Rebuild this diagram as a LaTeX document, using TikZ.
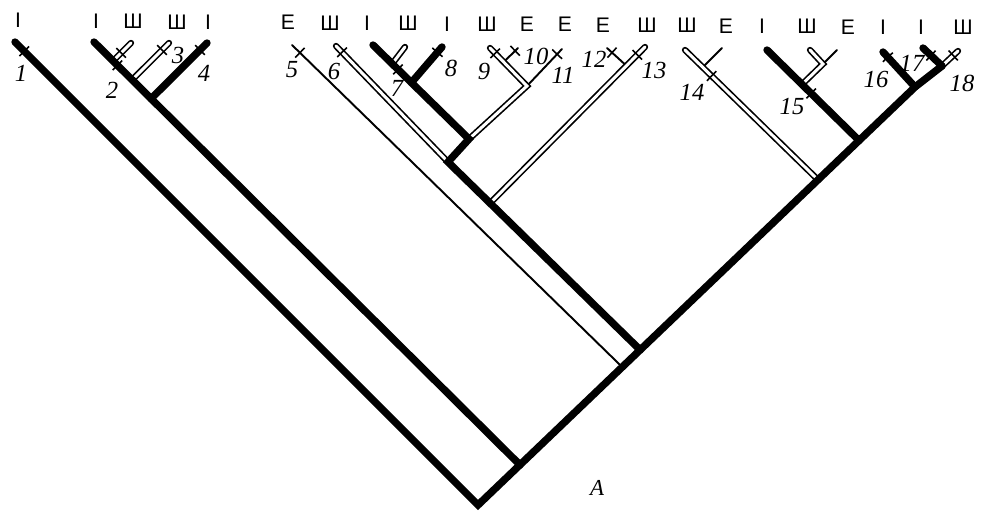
\documentclass[tikz,border=0pt]{standalone}
\usepackage{fontspec}
\setmainfont{Liberation Serif}
\setsansfont{Liberation Sans}
\usepackage{tikz}
\usetikzlibrary{calc}
\tikzstyle{thickbr} = [draw, line width=4.2pt, line cap=round, line join=miter]
\tikzstyle{dblbr} = [draw, double, line width=0.95pt, double distance=1.7pt, line cap=round]
\tikzstyle{thinbr} = [draw, line width=1.1pt, line cap=round]
\tikzstyle{tickmark} = [draw, rectangle, line width=0.9pt, inner sep=0pt, minimum width=0pt, minimum height=0.27cm, sloped]
\tikzstyle{taxon} = [font=\sffamily\fontsize{12}{14}\selectfont]
\tikzstyle{numlab} = [font=\itshape\fontsize{14}{16}\selectfont]

\begin{document}
\begin{tikzpicture}[x=0.02cm, y=-0.02cm]
        \useasboundingbox (0,0) rectangle (982,516);

        % Leaf tips
        \coordinate (leaf1) at (15,42);
        \coordinate (leaf2) at (94,42);
        \coordinate (leaf3) at (131,43);
        \coordinate (leaf4) at (169,43);
        \coordinate (leaf5) at (207,43);
        \coordinate (leaf6) at (292,45);
        \coordinate (leaf7) at (336,46);
        \coordinate (leaf8) at (373,45);
        \coordinate (leaf9) at (405,47);
        \coordinate (leaf10) at (442,47);
        \coordinate (leaf11) at (490,48);
        \coordinate (leaf12) at (518,48);
        \coordinate (leaf13) at (562,49);
        \coordinate (leaf14) at (607,48);
        \coordinate (leaf15) at (645,47);
        \coordinate (leaf16) at (685,50);
        \coordinate (leaf17) at (722,48);
        \coordinate (leaf18) at (767,50);
        \coordinate (leaf19) at (810,50);
        \coordinate (leaf20) at (837,50);
        \coordinate (leaf21) at (883,52);
        \coordinate (leaf22) at (923,48);
        \coordinate (leaf23) at (958,51);

        % Inner nodes
        \coordinate (root) at (478,505);
        \coordinate (n16) at (915,87);
        \coordinate (n17) at (942,66);
        \coordinate (nA) at ($(root)!0.096!(n16)$);
        \coordinate (n5) at ($(root)!0.33!(n16)$);
        \coordinate (nB) at ($(root)!0.371!(n16)$);
        \coordinate (n14) at ($(root)!0.778!(n16)$);
        \coordinate (n15) at ($(root)!0.872!(n16)$);
        \coordinate (s3) at ($(leaf2)!0.0448!(nA)$);
        \coordinate (s4) at ($(leaf2)!0.0895!(nA)$);
        \coordinate (s5) at ($(leaf2)!0.134!(nA)$);
        \coordinate (N6) at (448,162);
        \coordinate (N7) at (469,139);
        \coordinate (n8) at ($(leaf8)!0.4!(N7)$);
        \coordinate (s9) at ($(leaf8)!0.2!(N7)$);
        \coordinate (c11) at (527,86);
        \coordinate (j12) at ($(leaf11)!0.37!(c11)$);
        \coordinate (n13) at ($(N6)!0.219!(nB)$);
        \coordinate (j14) at ($(leaf15)!0.12!(n13)$);
        \coordinate (j17) at ($(leaf16)!0.133!(n14)$);
        \coordinate (c19) at (823,64);
        \coordinate (s19) at ($(leaf18)!0.38!(n15)$);

        % Thin branches
        \path [thinbr] (leaf6) -- (n5);
        \path [thinbr] (leaf12) -- (j12);
        \path [thinbr] (leaf13) -- (c11);
        \path [thinbr] (leaf14) -- (j14);
        \path [thinbr] (leaf17) -- (j17);
        \path [thinbr] (leaf20) -- (c19);

        % Double branches
        \path [dblbr] (leaf3) -- (s3);
        \path [dblbr] (leaf4) -- (s4);
        \path [dblbr] (leaf7) -- (N6);
        \path [dblbr] (leaf9) -- (s9);
        \path [dblbr] (leaf11) -- (c11) -- (N7);
        \path [dblbr] (leaf15) -- (n13);
        \path [dblbr] (leaf16) -- (n14);
        \path [dblbr] (leaf19) -- (c19) -- (s19);
        \path [dblbr] (n17) -- (leaf23);

        % Thick branches
        \path [thickbr] (leaf1) -- (root) -- (n16) -- (n17);
        \path [thickbr] (leaf2) -- (nA);
        \path [thickbr] (leaf5) -- (s5);
        \path [thickbr] (leaf8) -- (N7) -- (N6) -- (nB);
        \path [thickbr] (leaf10) -- (n8);
        \path [thickbr] (leaf18) -- (n15);
        \path [thickbr] (leaf21) -- (n16);
        \path [thickbr] (leaf22) -- (n17);

        % Ticks
        \path (leaf1) -- node[tickmark, pos=0.02] (tk1) {} (root);
        \path (leaf3) -- node[tickmark, pos=0.55] (tk2a) {} (s3);
        \path (leaf2) -- node[tickmark, pos=0.055] (tk2) {} (nA);
        \path (leaf4) -- node[tickmark, pos=0.19] (tk3) {} (s4);
        \path (leaf5) -- node[tickmark, pos=0.125] (tk4) {} (s5);
        \path (leaf6) -- node[tickmark, pos=0.024] (tk5) {} (n5);
        \path (leaf7) -- node[tickmark, pos=0.054] (tk6) {} (N6);
        \path (leaf8) -- node[tickmark, pos=0.26] (tk7) {} (N7);
        \path (leaf10) -- node[tickmark, pos=0.15] (tk8) {} (n8);
        \path (leaf11) -- node[tickmark, pos=0.14] (tk9) {} (c11);
        \path (leaf12) -- node[tickmark, pos=0.2] (tk10) {} (j12);
        \path (leaf13) -- node[tickmark, pos=0.14] (tk11) {} (c11);
        \path (leaf14) -- node[tickmark, pos=0.26] (tk12) {} (j14);
        \path (leaf15) -- node[tickmark, pos=0.05] (tk13) {} (n13);
        \path (leaf16) -- node[tickmark, pos=0.2] (tk14) {} (n14);
        \path (leaf18) -- node[tickmark, pos=0.48] (tk15) {} (n15);
        \path (leaf21) -- node[tickmark, pos=0.15] (tk16) {} (n16);
        \path (leaf22) -- node[tickmark, pos=0.42] (tk17) {} (n17);
        \path (n17) -- node[tickmark, pos=0.7] (tk18) {} (leaf23);

        % Taxon letters
        \node (tx1) [taxon] at (18,20.6) {I};
        \node (tx2) [taxon] at (96,21.2) {I};
        \node (tx3) [taxon] at (133,21.5) {Ш};
        \node (tx4) [taxon] at (177,21.8) {Ш};
        \node (tx5) [taxon] at (208,22.1) {I};
        \node (tx6) [taxon] at (288,22.7) {E};
        \node (tx7) [taxon] at (330,23) {Ш};
        \node (tx8) [taxon] at (367,23.3) {I};
        \node (tx9) [taxon] at (408,23.6) {Ш};
        \node (tx10) [taxon] at (447,23.9) {I};
        \node (tx11) [taxon] at (487,24.2) {Ш};
        \node (tx12) [taxon] at (527,24.5) {E};
        \node (tx13) [taxon] at (565,24.7) {E};
        \node (tx14) [taxon] at (603,25) {E};
        \node (tx15) [taxon] at (647,25.4) {Ш};
        \node (tx16) [taxon] at (687,25.7) {Ш};
        \node (tx17) [taxon] at (726,26) {E};
        \node (tx18) [taxon] at (762,26.2) {I};
        \node (tx19) [taxon] at (807,26.6) {Ш};
        \node (tx20) [taxon] at (848,26.9) {E};
        \node (tx21) [taxon] at (883,27.1) {I};
        \node (tx22) [taxon] at (921,27.4) {I};
        \node (tx23) [taxon] at (963,27.7) {Ш};

        % Tick numbers
        \node (num1) [numlab] at (21,73) {1};
        \node (num2) [numlab] at (112,90) {2};
        \node (num3) [numlab] at (178,55) {3};
        \node (num4) [numlab] at (204,73) {4};
        \node (num5) [numlab] at (292,70) {5};
        \node (num6) [numlab] at (334,71) {6};
        \node (num7) [numlab] at (397,88) {7};
        \node (num8) [numlab] at (451,68) {8};
        \node (num9) [numlab] at (484,71) {9};
        \node (num10) [numlab] at (536,56) {10};
        \node (num11) [numlab] at (563,75) {11};
        \node (num12) [numlab] at (594,59) {12};
        \node (num13) [numlab] at (654,70) {13};
        \node (num14) [numlab] at (692,92) {14};
        \node (num15) [numlab] at (792,107) {15};
        \node (num16) [numlab] at (876,79) {16};
        \node (num17) [numlab] at (912,63) {17};
        \node (num18) [numlab] at (962,83) {18};
        \node (rootlab) [font=\itshape\fontsize{13}{15}\selectfont] at (597,488) {A};

    \end{tikzpicture}
\end{document}
